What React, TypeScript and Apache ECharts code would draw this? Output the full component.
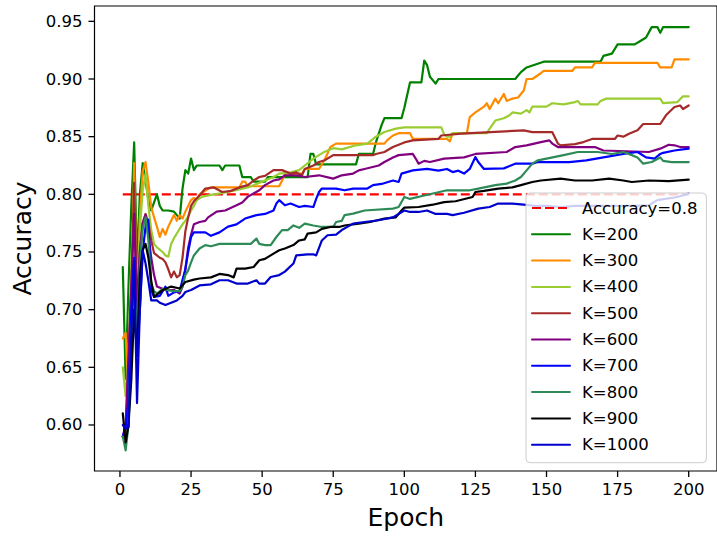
import React, { useEffect, useRef } from "react";
import * as echarts from "echarts";

const FONT = "DejaVu Sans";

const xTicks = [0, 25, 50, 75, 100, 125, 150, 175, 200];
const yTicks = [0.6, 0.65, 0.7, 0.75, 0.8, 0.85, 0.9, 0.95];

const thresholdName = "Accuracy=0.8";
const threshold = [[1, 0.8], [200, 0.8]];

const k200 = [[1,0.737],[2,0.64],[3,0.72],[4,0.79],[5,0.845],[6,0.74],[7,0.80],[8,0.827],[9,0.812],[10,0.795],[11,0.786],[12,0.793],[13,0.80],[14,0.79],[15,0.786],[17,0.786],[19,0.785],[20,0.782],[21,0.779],[22,0.805],[23,0.821],[24,0.818],[25,0.831],[26,0.821],[27,0.825],[35,0.825],[36,0.821],[37,0.825],[42,0.825],[43,0.815],[46,0.815],[47,0.811],[51,0.811],[52,0.815],[66,0.815],[67,0.835],[68,0.835],[69,0.826],[83,0.826],[84,0.835],[89,0.835],[90,0.845],[92,0.86],[93,0.866],[99,0.866],[100,0.875],[102,0.897],[106,0.897],[107,0.916],[108,0.912],[109,0.902],[110,0.899],[111,0.896],[112,0.9],[139,0.9],[140,0.903],[141,0.906],[143,0.91],[149,0.915],[169,0.915],[170,0.92],[173,0.922],[175,0.93],[181,0.93],[183,0.933],[185,0.936],[187,0.945],[189,0.945],[190,0.94],[191,0.945],[200,0.945]];
const k300 = [[1,0.675],[2,0.68],[3,0.62],[4,0.70],[5,0.827],[6,0.70],[7,0.78],[8,0.82],[9,0.828],[10,0.81],[11,0.789],[12,0.78],[13,0.772],[14,0.763],[15,0.77],[16,0.765],[17,0.772],[18,0.777],[19,0.782],[20,0.777],[21,0.782],[22,0.779],[23,0.785],[24,0.79],[25,0.795],[26,0.797],[27,0.795],[28,0.8],[30,0.803],[32,0.806],[42,0.806],[43,0.811],[44,0.811],[45,0.807],[56,0.807],[57,0.812],[58,0.818],[64,0.818],[65,0.822],[70,0.822],[72,0.83],[74,0.841],[76,0.844],[93,0.844],[94,0.847],[96,0.851],[98,0.853],[102,0.853],[103,0.848],[115,0.848],[116,0.846],[117,0.853],[122,0.853],[123,0.867],[125,0.871],[128,0.876],[129,0.879],[130,0.874],[132,0.883],[133,0.879],[135,0.887],[136,0.881],[138,0.883],[140,0.884],[142,0.89],[143,0.9],[145,0.9],[148,0.905],[149,0.907],[159,0.907],[160,0.91],[166,0.91],[167,0.914],[189,0.914],[190,0.91],[194,0.91],[195,0.917],[200,0.917]];
const k400 = [[1,0.65],[2,0.625],[3,0.66],[4,0.74],[5,0.80],[6,0.70],[7,0.77],[8,0.803],[9,0.818],[10,0.79],[11,0.769],[12,0.757],[13,0.754],[14,0.752],[15,0.75],[16,0.747],[17,0.746],[18,0.757],[19,0.762],[20,0.766],[21,0.77],[22,0.774],[23,0.777],[24,0.781],[25,0.786],[26,0.79],[27,0.795],[29,0.798],[32,0.7995],[38,0.802],[45,0.806],[50,0.811],[54,0.815],[56,0.818],[60,0.819],[63,0.821],[65,0.825],[68,0.831],[72,0.837],[75,0.84],[78,0.839],[83,0.8425],[87,0.844],[90,0.85],[93,0.854],[97,0.857],[100,0.858],[113,0.858],[114,0.852],[115,0.85],[116,0.85],[117,0.853],[129,0.853],[130,0.857],[132,0.864],[135,0.866],[137,0.8685],[138,0.871],[141,0.87],[143,0.873],[144,0.871],[145,0.876],[150,0.876],[152,0.879],[156,0.878],[160,0.88],[161,0.881],[162,0.878],[168,0.878],[169,0.881],[171,0.883],[190,0.883],[191,0.879],[196,0.88],[198,0.885],[200,0.885]];
const k500 = [[1,0.59],[2,0.595],[3,0.65],[4,0.72],[5,0.81],[6,0.70],[7,0.75],[8,0.775],[9,0.783],[10,0.775],[11,0.76],[12,0.749],[13,0.747],[14,0.745],[15,0.744],[16,0.741],[17,0.735],[18,0.728],[19,0.733],[20,0.728],[21,0.73],[22,0.745],[23,0.768],[24,0.78],[25,0.79],[26,0.794],[28,0.799],[30,0.805],[33,0.806],[36,0.802],[39,0.803],[42,0.806],[45,0.808],[47,0.812],[49,0.815],[51,0.816],[54,0.821],[57,0.821],[60,0.818],[62,0.819],[64,0.8165],[65,0.822],[68,0.825],[70,0.828],[72,0.8295],[75,0.834],[89,0.834],[90,0.835],[93,0.8367],[96,0.841],[100,0.845],[103,0.8468],[112,0.848],[113,0.851],[120,0.8526],[142,0.8555],[145,0.854],[152,0.854],[154,0.844],[155,0.8425],[160,0.8435],[163,0.8453],[166,0.848],[174,0.848],[175,0.851],[177,0.85],[179,0.8526],[182,0.8555],[184,0.861],[190,0.861],[192,0.8685],[195,0.8757],[197,0.877],[198,0.874],[200,0.877]];
const k600 = [[1,0.59],[2,0.60],[3,0.66],[4,0.72],[5,0.783],[6,0.70],[7,0.75],[8,0.775],[9,0.782],[10,0.765],[11,0.745],[12,0.73],[13,0.72],[16,0.717],[19,0.717],[21,0.714],[22,0.72],[23,0.735],[24,0.754],[25,0.765],[26,0.774],[28,0.776],[30,0.777],[31,0.78],[34,0.785],[37,0.786],[41,0.7905],[43,0.793],[45,0.798],[49,0.8035],[51,0.808],[54,0.812],[56,0.813],[58,0.8165],[62,0.8165],[65,0.815],[70,0.8165],[75,0.8136],[78,0.8165],[82,0.818],[84,0.8208],[86,0.822],[91,0.825],[93,0.828],[96,0.832],[98,0.834],[103,0.835],[104,0.831],[105,0.8266],[107,0.829],[109,0.828],[114,0.831],[121,0.832],[125,0.835],[136,0.8367],[139,0.841],[143,0.8425],[148,0.8453],[151,0.8468],[152,0.844],[154,0.841],[167,0.841],[170,0.838],[186,0.8367],[190,0.8396],[193,0.843],[195,0.8425],[197,0.841],[200,0.841]];
const k700 = [[1,0.59],[2,0.598],[3,0.62],[4,0.70],[5,0.745],[6,0.66],[7,0.70],[8,0.75],[9,0.772],[10,0.778],[11,0.717],[12,0.711],[14,0.712],[16,0.72],[17,0.712],[19,0.715],[21,0.716],[22,0.726],[23,0.735],[24,0.75],[25,0.763],[26,0.767],[30,0.767],[32,0.764],[35,0.767],[38,0.772],[41,0.774],[44,0.779],[48,0.782],[51,0.783],[54,0.786],[55,0.792],[56,0.795],[58,0.7905],[60,0.792],[63,0.789],[65,0.79],[68,0.789],[69,0.796],[70,0.802],[71,0.805],[76,0.805],[79,0.8035],[82,0.805],[87,0.805],[89,0.808],[92,0.809],[96,0.812],[98,0.8107],[99,0.818],[103,0.8208],[108,0.822],[112,0.8205],[115,0.822],[117,0.8193],[119,0.8205],[121,0.818],[123,0.822],[125,0.8323],[126,0.828],[128,0.822],[135,0.8225],[139,0.8266],[145,0.8266],[147,0.828],[158,0.828],[164,0.8295],[170,0.832],[177,0.835],[182,0.8367],[185,0.832],[188,0.831],[190,0.835],[191,0.836],[195,0.838],[200,0.8396]];
const k800 = [[1,0.59],[2,0.578],[3,0.60],[4,0.68],[5,0.72],[6,0.68],[7,0.74],[8,0.77],[9,0.78],[10,0.76],[11,0.722],[12,0.716],[13,0.714],[15,0.718],[17,0.717],[19,0.716],[21,0.716],[22,0.72],[23,0.73],[24,0.734],[25,0.741],[26,0.747],[28,0.753],[30,0.756],[32,0.755],[35,0.757],[46,0.757],[48,0.7616],[49,0.757],[51,0.756],[53,0.756],[55,0.763],[57,0.769],[59,0.769],[61,0.773],[63,0.771],[65,0.7746],[68,0.773],[71,0.7717],[75,0.7717],[76,0.776],[78,0.777],[79,0.782],[82,0.7833],[86,0.786],[96,0.7876],[98,0.789],[100,0.7977],[102,0.796],[107,0.799],[115,0.8035],[123,0.8035],[126,0.805],[132,0.808],[136,0.8093],[139,0.812],[141,0.815],[143,0.8208],[145,0.8266],[147,0.8295],[150,0.831],[156,0.834],[161,0.8367],[168,0.8367],[173,0.835],[177,0.8367],[180,0.834],[182,0.832],[184,0.8266],[187,0.828],[190,0.832],[191,0.829],[194,0.828],[200,0.828]];
const k900 = [[1,0.61],[2,0.585],[3,0.60],[4,0.64],[5,0.70],[6,0.66],[7,0.73],[8,0.752],[9,0.757],[10,0.745],[11,0.725],[12,0.711],[13,0.713],[15,0.717],[18,0.72],[21,0.7183],[23,0.724],[26,0.726],[28,0.727],[32,0.728],[35,0.731],[38,0.73],[40,0.728],[41,0.7356],[44,0.7356],[47,0.737],[49,0.7428],[51,0.744],[54,0.7486],[56,0.7515],[58,0.753],[61,0.756],[63,0.76],[65,0.761],[66,0.766],[69,0.767],[71,0.77],[74,0.7717],[77,0.7717],[79,0.773],[84,0.7746],[88,0.776],[93,0.779],[97,0.78],[99,0.786],[100,0.7885],[105,0.789],[110,0.791],[114,0.7933],[118,0.794],[124,0.7977],[125,0.802],[128,0.803],[133,0.805],[138,0.806],[141,0.808],[145,0.8107],[148,0.812],[155,0.8136],[160,0.812],[166,0.812],[172,0.8136],[177,0.812],[180,0.8107],[186,0.812],[193,0.8115],[200,0.8127]];
const k1000 = [[1,0.60],[2,0.597],[3,0.598],[4,0.68],[5,0.743],[6,0.619],[7,0.70],[8,0.7515],[9,0.74],[10,0.725],[11,0.708],[13,0.708],[14,0.706],[16,0.704],[18,0.706],[20,0.708],[22,0.712],[23,0.7153],[25,0.717],[28,0.721],[32,0.722],[35,0.7255],[38,0.7255],[41,0.7226],[45,0.7226],[48,0.7255],[49,0.7226],[51,0.7226],[53,0.7283],[56,0.73],[58,0.733],[61,0.74],[62,0.747],[66,0.748],[68,0.748],[69,0.747],[71,0.76],[73,0.7645],[76,0.765],[78,0.769],[82,0.7746],[86,0.776],[91,0.7775],[96,0.78],[100,0.786],[102,0.7847],[105,0.7847],[108,0.786],[111,0.783],[115,0.783],[117,0.782],[121,0.784],[126,0.7876],[130,0.789],[133,0.792],[138,0.792],[142,0.791],[146,0.79],[150,0.79],[155,0.789],[160,0.79],[170,0.79],[180,0.79],[186,0.7905],[189,0.795],[196,0.7977],[200,0.8006]];

const seriesNames = ["K=200", "K=300", "K=400", "K=500", "K=600", "K=700", "K=800", "K=900", "K=1000"];
const seriesData = [k200, k300, k400, k500, k600, k700, k800, k900, k1000];
const seriesColors = ["#008000", "#ff8c00", "#9acd32", "#a52a2a", "#800080", "#0000ff", "#2e8b57", "#000000", "#0000cd"];

const X_MIN = -8.95;
const X_MAX = 209.95;
const Y_MIN = 0.5601;
const Y_MAX = 0.9633;

export default function App() {
  const ref = useRef<HTMLDivElement>(null);
  useEffect(() => {
    const chart = echarts.init(ref.current!, null, { renderer: "svg" });
    const lw = 2.2;
    const tickLen = 6;
    const series: any[] = [
      {
        name: thresholdName,
        type: "line",
        data: threshold,
        symbol: "none",
        showSymbol: false,
        silent: true,
        itemStyle: { color: "#ff0000" },
        lineStyle: { color: "#ff0000", width: lw, type: [9, 4] },
      },
      ...seriesNames.map((n, i) => ({
        name: n,
        type: "line",
        data: seriesData[i],
        symbol: "none",
        showSymbol: false,
        silent: true,
        itemStyle: { color: seriesColors[i] },
        lineStyle: { color: seriesColors[i], width: lw, join: "round", cap: "round" },
      })),
    ];
    chart.setOption({
      animation: false,
      backgroundColor: "#ffffff",
      textStyle: { fontFamily: FONT },
      grid: {
        left: 94.5,
        top: 6,
        width: 624.4,
        height: 465,
        show: true,
        borderColor: "#000000",
        borderWidth: 1.2,
        backgroundColor: "transparent",
      },
      xAxis: {
        type: "value",
        min: X_MIN,
        max: X_MAX,
        name: "Epoch",
        nameLocation: "middle",
        nameGap: 34,
        nameTextStyle: { fontSize: 25, color: "#000", fontFamily: FONT },
        axisLine: { show: false, onZero: false },
        splitLine: { show: false },
        axisTick: { show: false },
        axisLabel: { customValues: xTicks, fontSize: 16.5, color: "#000", fontFamily: FONT, margin: 10, formatter: (v: number) => String(v) },
      },
      yAxis: {
        type: "value",
        min: Y_MIN,
        max: Y_MAX,
        name: "Accuracy",
        nameLocation: "middle",
        nameGap: 58,
        nameTextStyle: { fontSize: 25, color: "#000", fontFamily: FONT },
        axisLine: { show: false, onZero: false },
        splitLine: { show: false },
        axisTick: { show: false },
        axisLabel: { customValues: yTicks, fontSize: 16.5, color: "#000", fontFamily: FONT, margin: 12, formatter: (v: number) => v.toFixed(2) },
      },
      legend: {
        orient: "vertical",
        left: 526,
        top: 193,
        padding: [6, 9, 9, 5],
        itemWidth: 38,
        itemHeight: 18,
        itemGap: 8.3,
        backgroundColor: "rgba(255,255,255,0.8)",
        borderColor: "#cccccc",
        borderWidth: 1,
        borderRadius: 4,
        selectedMode: false,
        itemStyle: { opacity: 0 },
        textStyle: { fontSize: 16.5, fontFamily: FONT, color: "#000", lineHeight: 18, padding: [0, 0, 0, 7] },
        data: [thresholdName, ...seriesNames],
      },
      series,
    });
    // tick marks, positioned through the chart's own scales
    const tickEls: any[] = [];
    xTicks.forEach((v) => {
      const p = chart.convertToPixel({ gridIndex: 0 }, [v, Y_MIN]) as number[];
      tickEls.push({
        type: "line",
        silent: true,
        z: 50,
        shape: { x1: p[0], y1: p[1], x2: p[0], y2: p[1] + tickLen },
        style: { stroke: "#000000", lineWidth: 1.3 },
      });
    });
    yTicks.forEach((v) => {
      const p = chart.convertToPixel({ gridIndex: 0 }, [X_MIN, v]) as number[];
      tickEls.push({
        type: "line",
        silent: true,
        z: 50,
        shape: { x1: p[0] - tickLen, y1: p[1], x2: p[0], y2: p[1] },
        style: { stroke: "#000000", lineWidth: 1.3 },
      });
    });
    chart.setOption({ graphic: tickEls });
    return () => chart.dispose();
  }, []);
  return (
    <div
      ref={ref}
      style={{ position: "fixed", left: 0, top: 0, width: 717, height: 536, background: "#fff" }}
    />
  );
}
